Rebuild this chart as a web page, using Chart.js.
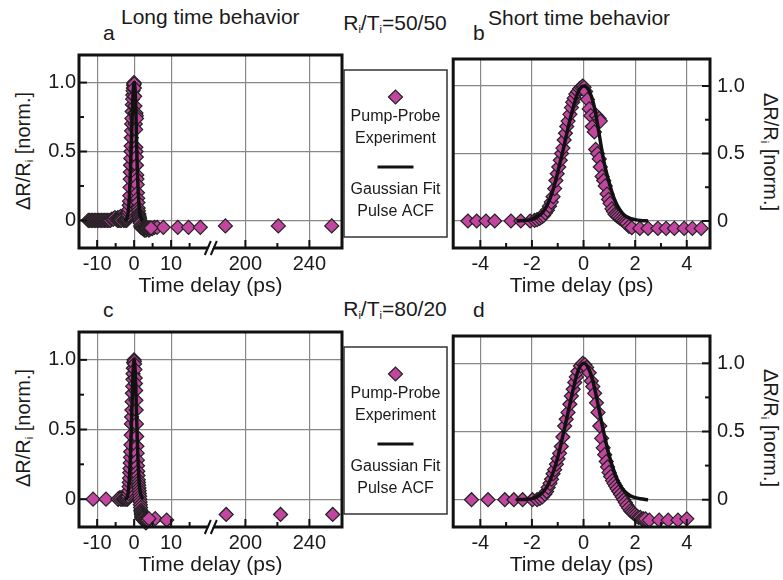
<!DOCTYPE html>
<html>
<head>
<meta charset="utf-8">
<script src="https://cdn.jsdelivr.net/npm/chart.js@4.4.1/dist/chart.umd.min.js"></script>
<style>
  body { margin: 0; background: #fff; width: 783px; height: 580px; overflow: hidden; position: relative;
         font-family: "Liberation Sans", Arial, sans-serif; color: #1a1a1a; }
  canvas { position: absolute; }
  .t { position: absolute; font-size: 21px; line-height: 21px; white-space: nowrap; }
  .t sub, .yt sub { font-size: 11px; vertical-align: -3px; line-height: 0; }
  .c { transform: translateX(-50%); }
  .yt { position: absolute; font-size: 20px; line-height: 20px; white-space: nowrap; }
</style>
</head>
<body>
<div class="t" style="left:103px;top:22px">a</div>
<div class="t" style="left:121px;top:6px">Long time behavior</div>
<div class="t c" style="left:395px;top:12px">R<sub>i</sub>/T<sub>i</sub>=50/50</div>
<div class="t" style="left:473px;top:22px">b</div>
<div class="t" style="left:488px;top:7px">Short time behavior</div>
<div class="t" style="left:103px;top:299px">c</div>
<div class="t c" style="left:395px;top:298px">R<sub>i</sub>/T<sub>i</sub>=80/20</div>
<div class="t" style="left:473px;top:299px">d</div>

<div class="yt" style="left:23px;top:151px;transform:translate(-50%,-50%) rotate(-90deg)">ΔR/R<sub>i</sub> [norm.]</div>
<div class="yt" style="left:23px;top:428px;transform:translate(-50%,-50%) rotate(-90deg)">ΔR/R<sub>i</sub> [norm.]</div>
<div class="yt" style="left:771px;top:152px;transform:translate(-50%,-50%) rotate(90deg)">ΔR/R<sub>i</sub> [norm.]</div>
<div class="yt" style="left:771px;top:428px;transform:translate(-50%,-50%) rotate(90deg)">ΔR/R<sub>i</sub> [norm.]</div>

<canvas id="pa" width="450" height="262" style="left:0;top:40px"></canvas>
<canvas id="pb" width="318" height="262" style="left:445px;top:40px"></canvas>
<canvas id="pc" width="450" height="264" style="left:0;top:317px"></canvas>
<canvas id="pd" width="318" height="264" style="left:445px;top:317px"></canvas>

<script>
const FONT = '"Liberation Sans", Arial, sans-serif';
const MAGENTA = '#c2469f';
Chart.defaults.font.family = FONT;
Chart.defaults.color = '#1a1a1a';

// ---- R/T = 50/50, short scan (panel b, also shown in a)
const shortTimeTop = [-4.48, -4.14, -3.78, -3.44, -2.81, -2.43, -2.07,
  -1.9, -1.8, -1.7, -1.62, -1.55, -1.48, -1.4, -1.32, -1.25, -1.18,
  -1.12, -1.07, -1.02, -0.96, -0.9, -0.85, -0.8, -0.75, -0.7, -0.65,
  -0.6, -0.53, -0.47, -0.42, -0.36, -0.3, -0.22, -0.15, -0.08, -0.03,
  0.02, 0.08, 0.15, 0.22, 0.28, 0.34, 0.42, 0.5, 0.6, 0.65,
  0.47, 0.54, 0.61, 0.65, 0.72, 0.78, 0.84, 0.91, 0.97, 1.03,
  1.1, 1.16, 1.22, 1.28, 1.35, 1.42, 1.49, 1.56, 1.62, 1.68,
  1.76, 1.87, 2.18, 2.5, 2.88, 3.2, 3.52, 3.9, 4.22, 4.56];
const shortValTop = [0, 0, 0, 0, 0, 0, 0,
  0.005, 0.01, 0.02, 0.03, 0.04, 0.06, 0.08, 0.11, 0.14, 0.18,
  0.24, 0.3, 0.35, 0.4, 0.45, 0.5, 0.54, 0.6, 0.65, 0.7,
  0.74, 0.79, 0.84, 0.88, 0.91, 0.94, 0.96, 0.98, 0.99, 1.0,
  0.99, 0.96, 0.9, 0.83, 0.78, 0.7, 0.66, 0.78, 0.76, 0.74,
  0.53, 0.5, 0.46, 0.4, 0.33, 0.3, 0.26, 0.2, 0.16, 0.13,
  0.09, 0.07, 0.05, 0.04, 0.03, 0.02, 0.01, 0.0, -0.01, -0.02,
  -0.04, -0.05, -0.055, -0.055, -0.055, -0.055, -0.055, -0.055, -0.055, -0.055];
// extra points of the long scan (panel a only)
const longTimeTop = [-12.4, -12.0, -11.6, -11.2, -10.8, -10.4, -10.0, -9.6, -9.2, -8.8, -8.4, -8.0, -7.6,
  -7.2, -6.8, -6.4, -6.0, -5.6, -5.2, -4.8, -4.4, -4.0, -3.6, -3.2, -2.8, -2.4,
  2.4, 2.8, 3.2, 3.6, 4.0, 4.5, 4.9, 5.5, 6.2, 7.9, 11.8, 14.7, 17.9, 187.5, 220.6, 254];
const longValTop = [0, 0, 0, 0, 0, 0, 0, 0, 0, 0, 0, 0, 0,
  0, 0, 0, 0.01, 0.01, 0.02, 0.01, 0.02, 0.02, 0.03, 0.02, 0.03, 0.02,
  -0.06, -0.07, -0.07, -0.06, -0.07, -0.06, -0.06, -0.05, -0.05, -0.05, -0.05, -0.05, -0.05, -0.04, -0.04, -0.04];
// gaussian fit of the pulse ACF
const fitTimeTop = [-2.6, -2.2, -2.0, -1.8, -1.6, -1.4, -1.2, -1.0, -0.8, -0.6, -0.4, -0.2, 0,
  0.2, 0.4, 0.6, 0.8, 1.0, 1.2, 1.4, 1.6, 1.8, 2.0, 2.2, 2.5];
const fitValTop = [0.0, 0.005, 0.012, 0.03, 0.06, 0.12, 0.22, 0.36, 0.52, 0.69, 0.84, 0.96, 1.0,
  0.97, 0.86, 0.65, 0.43, 0.28, 0.16, 0.085, 0.04, 0.02, 0.01, 0.004, 0.0];

// ---- R/T = 80/20, short scan (panel d, also shown in c)
const shortTimeBot = [-4.34, -3.7, -3.05, -2.7, -2.36, -1.98, -1.8, -1.69, -1.6, -1.5, -1.43, -1.37,
  -1.3, -1.24, -1.18, -1.12, -1.05, -0.99, -0.93, -0.86, -0.8, -0.73, -0.67, -0.6, -0.53, -0.47, -0.4,
  -0.34, -0.28, -0.22, -0.12, -0.03, 0.05, 0.12, 0.22, 0.3, 0.36, 0.43, 0.5, 0.56, 0.63, 0.7, 0.76,
  0.82, 0.88, 0.93, 0.99, 1.05, 1.12, 1.18, 1.24, 1.3, 1.37, 1.43, 1.5, 1.56, 1.62, 1.68, 1.75, 1.82,
  1.88, 1.94, 2.0, 2.07, 2.13, 2.2, 2.26, 2.32, 2.4, 2.55, 2.93, 3.28, 3.66, 4.0];
const shortValBot = [0, 0, 0, 0, 0, 0, 0.0, 0.01, 0.02, 0.04, 0.06, 0.09,
  0.12, 0.15, 0.19, 0.22, 0.26, 0.3, 0.34, 0.39, 0.46, 0.54, 0.59, 0.64, 0.7, 0.76, 0.81,
  0.86, 0.9, 0.94, 0.98, 1.0, 0.99, 0.97, 0.93, 0.87, 0.83, 0.78, 0.71, 0.64, 0.54, 0.45, 0.38,
  0.33, 0.28, 0.24, 0.2, 0.17, 0.14, 0.12, 0.1, 0.08, 0.06, 0.04, 0.02, 0.0, -0.02, -0.04, -0.06, -0.08,
  -0.09, -0.1, -0.11, -0.12, -0.13, -0.13, -0.14, -0.14, -0.14, -0.15, -0.15, -0.15, -0.15, -0.14];
const longTimeBot = [-11.1, -7.6, -4.3, -3.9, -3.6, -3.3, -3.0, -2.7, -2.4, -2.1,
  2.6, 2.9, 3.2, 3.4, 5.7, 8.8, 188, 222, 254.6];
const longValBot = [0, 0, 0, 0.01, 0.01, 0.0, 0.01, 0.02, 0.01, 0.02,
  -0.15, -0.16, -0.17, -0.15, -0.14, -0.15, -0.11, -0.11, -0.11];
const fitTimeBot = [-2.6, -2.2, -2.0, -1.8, -1.6, -1.4, -1.2, -1.0, -0.8, -0.6, -0.4, -0.2, 0,
  0.2, 0.4, 0.6, 0.8, 1.0, 1.2, 1.4, 1.6, 1.8, 2.0, 2.2, 2.5];
const fitValBot = [0.0, 0.003, 0.008, 0.02, 0.05, 0.1, 0.19, 0.31, 0.47, 0.64, 0.81, 0.95, 1.0,
  0.96, 0.84, 0.66, 0.48, 0.32, 0.2, 0.11, 0.06, 0.03, 0.015, 0.007, 0.0];

// ---- axes
const longTicks = [-10, 0, 10, 200, 240];
const longTickLabels = ['-10', '0', '10', '200', '240'];
const longMinor = [-5, 5, 15, 220];
const shortTicks = [-4, -2, 0, 2, 4];
const shortTickLabels = ['-4', '-2', '0', '2', '4'];
const shortMinor = [-3, -1, 1, 3];
const yTicks = [0, 0.5, 1.0];
const yTickLabels = ['0', '0.5', '1.0'];
const yMinor = [0.25, 0.75];

// broken time axis: 21..179 ps is cut out, the far part squeezed
const BREAK_LO = 21, BREAK_HI = 179, SQUEEZE = 0.4324;
const brk = t => t <= BREAK_LO ? t : BREAK_LO + (t - BREAK_HI) * SQUEEZE;
const same = t => t;

function pts(times, vals, map) {
  return times.map((t, i) => ({x: map(t), y: vals[i]}));
}

const frame = {
  id: 'frame',
  afterDatasetsDraw(chart, args, o) {
    const {ctx, chartArea: a} = chart;
    const xs = chart.scales.x, ys = chart.scales.y;
    const seg = (x1, y1, x2, y2) => { ctx.beginPath(); ctx.moveTo(x1, y1); ctx.lineTo(x2, y2); ctx.stroke(); };
    ctx.save();
    ctx.strokeStyle = '#111';
    ctx.lineWidth = 2;
    o.xMajor.forEach(v => { const p = xs.getPixelForValue(o.map(v)); seg(p, a.bottom, p, a.bottom - 8); });
    o.xMinor.forEach(v => { const p = xs.getPixelForValue(o.map(v)); seg(p, a.bottom, p, a.bottom - 5); });
    const yEdge = o.right ? a.right : a.left, dir = o.right ? -1 : 1;
    yTicks.forEach(v => { const p = ys.getPixelForValue(v); seg(yEdge, p, yEdge + dir * 8, p); });
    yMinor.forEach(v => { const p = ys.getPixelForValue(v); seg(yEdge, p, yEdge + dir * 5, p); });
    ctx.lineWidth = 3;
    ctx.strokeRect(a.left, a.top, a.right - a.left, a.bottom - a.top);
    if (o.broken) {
      const bx = xs.getPixelForValue(BREAK_LO), by = a.bottom;
      ctx.fillStyle = '#fff';
      ctx.beginPath();
      ctx.moveTo(bx - 6, by + 6); ctx.lineTo(bx, by - 6); ctx.lineTo(bx + 4, by - 6); ctx.lineTo(bx - 2, by + 6);
      ctx.closePath(); ctx.fill();
      ctx.lineWidth = 2;
      seg(bx - 7, by + 7, bx - 1, by - 7);
      seg(bx - 1, by + 7, bx + 5, by - 7);
    }
    ctx.restore();
  }
};

const keyBox = {
  id: 'keyBox',
  afterDraw(chart, args, o) {
    const ctx = chart.ctx;
    const left = 344, w = 103, h = 167, top = chart.chartArea.top + o.dy, cx = left + w / 2;
    ctx.save();
    ctx.fillStyle = '#fff';
    ctx.fillRect(left, top, w, h);
    ctx.strokeStyle = '#333';
    ctx.lineWidth = 1.5;
    ctx.strokeRect(left, top, w, h);
    ctx.fillStyle = MAGENTA;
    ctx.strokeStyle = '#222';
    ctx.lineWidth = 1.2;
    Chart.helpers.drawPoint(ctx, {pointStyle: 'rectRot', radius: 7, borderWidth: 1.2}, cx, top + 27);
    ctx.fillStyle = '#1a1a1a';
    ctx.font = '16px ' + FONT;
    ctx.textAlign = 'center';
    ctx.textBaseline = 'middle';
    ctx.fillText('Pump-Probe', cx, top + 47);
    ctx.fillText('Experiment', cx, top + 69);
    ctx.fillText('Gaussian Fit', cx, top + 120);
    ctx.fillText('Pulse ACF', cx, top + 142);
    ctx.strokeStyle = '#111';
    ctx.lineWidth = 3;
    ctx.beginPath(); ctx.moveTo(cx - 18, top + 97); ctx.lineTo(cx + 18, top + 97); ctx.stroke();
    ctx.restore();
  }
};

function makePanel(id, p) {
  const datasets = [{
    data: pts(p.fitT, p.fitV, p.map),
    showLine: true, borderColor: '#111', borderWidth: 3.5, pointRadius: 0, tension: 0.35, clip: false
  }];
  p.series.forEach(s => datasets.push({
    data: pts(s[0], s[1], p.map),
    pointStyle: 'rectRot', pointRadius: 7, pointBackgroundColor: MAGENTA,
    pointBorderColor: '#222', pointBorderWidth: 1.2, showLine: false, clip: false
  }));
  new Chart(document.getElementById(id), {
    type: 'scatter',
    data: {datasets},
    plugins: p.legend ? [frame, keyBox] : [frame],
    options: {
      responsive: false, animation: false, events: [],
      layout: {padding: p.pad},
      plugins: {
        legend: {display: false}, tooltip: {enabled: false},
        frame: {map: p.map, xMajor: p.xTicks, xMinor: p.xMinor, right: p.right, broken: p.legend},
        keyBox: {dy: 15}
      },
      scales: {
        x: {
          min: p.xMin, max: p.xMax,
          afterBuildTicks: s => { s.ticks = p.xTicks.map(v => ({value: p.map(v)})); },
          afterFit: s => { s.height = 54; },
          ticks: {autoSkip: false, maxRotation: 0, padding: 4, font: {size: 20},
                  callback: (v, i) => p.xLabels[i]},
          grid: {color: 'rgb(140,134,134)', lineWidth: 1.2, drawTicks: false},
          border: {display: false},
          title: {display: true, text: 'Time delay (ps)', font: {size: 21}, padding: {top: 0, bottom: 3}}
        },
        y: {
          position: p.right ? 'right' : 'left',
          min: -0.2, max: 1.2,
          afterBuildTicks: s => { s.ticks = yTicks.map(v => ({value: v})); },
          afterFit: s => { s.width = p.yWidth; },
          ticks: {padding: p.right ? 7 : 3, font: {size: 20}, callback: (v, i) => yTickLabels[i]},
          grid: {color: 'rgb(140,134,134)', lineWidth: 1.2, drawTicks: false},
          border: {display: false}
        }
      }
    }
  });
}

const longAxis = {map: brk, xMin: -14.9, xMax: 56.2, xTicks: longTicks, xLabels: longTickLabels,
  xMinor: longMinor, right: false, yWidth: 79, legend: true};
const shortAxis = {map: same, xMin: -5.05, xMax: 4.9, xTicks: shortTicks, xLabels: shortTickLabels,
  xMinor: shortMinor, right: true, yWidth: 53, legend: false};

makePanel('pa', Object.assign({}, longAxis, {
  pad: {left: 0, top: 12, right: 108, bottom: 0},
  fitT: fitTimeTop, fitV: fitValTop,
  series: [[shortTimeTop, shortValTop], [longTimeTop, longValTop]]
}));
makePanel('pb', Object.assign({}, shortAxis, {
  pad: {left: 4, top: 12, right: 0, bottom: 0},
  fitT: fitTimeTop, fitV: fitValTop,
  series: [[shortTimeTop, shortValTop]]
}));
makePanel('pc', Object.assign({}, longAxis, {
  pad: {left: 0, top: 12, right: 108, bottom: 0},
  fitT: fitTimeBot, fitV: fitValBot,
  series: [[shortTimeBot, shortValBot], [longTimeBot, longValBot]]
}));
makePanel('pd', Object.assign({}, shortAxis, {
  pad: {left: 4, top: 12, right: 0, bottom: 0},
  fitT: fitTimeBot, fitV: fitValBot,
  series: [[shortTimeBot, shortValBot]]
}));
</script>
</body>
</html>
